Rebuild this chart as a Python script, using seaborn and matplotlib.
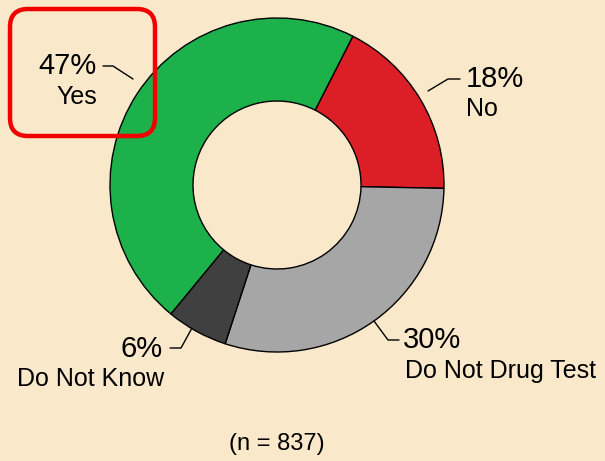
import matplotlib
matplotlib.use("Agg")
import matplotlib.pyplot as plt
import seaborn as sns
from matplotlib.patches import FancyBboxPatch

categories = ["No", "Do Not Drug Test", "Do Not Know", "Yes"]
values = [18, 30, 6, 47]
pct_labels = ["18%", "30%", "6%", "47%"]
colors = ["#DC1F26", "#A6A6A6", "#404040", "#1DB14B"]
note = "(n = 837)"

sns.set_theme(style="white")
plt.rcParams["font.family"] = ["Liberation Sans", "DejaVu Sans"]

BG = "#F9E8C9"
W, H = 605, 461
fig = plt.figure(figsize=(6.05, 4.61), dpi=100, facecolor=BG)
ax = fig.add_axes([0, 0, 1, 1])
ax.set_facecolor(BG)
ax.set_xlim(0, W)
ax.set_ylim(0, H)
ax.set_aspect("equal")
ax.axis("off")

def Y(py):
    return H - py

ax.pie(values, colors=colors, startangle=63, counterclock=False,
       center=(277, Y(185)), radius=167, frame=True,
       wedgeprops=dict(width=83, edgecolor="black", linewidth=1.0))
ax.set_xlim(0, W)
ax.set_ylim(0, H)
ax.axis("off")

pct_fs = 21
cat_fs = 18

# label specs: (pct pos, cat pos, ha, leader points)
specs = {
    "Yes": ((97, 66), (97, 97), "right", [(103, 66), (113, 66), (133, 79)]),
    "No": ((466, 79), (466, 109), "left", [(460, 79), (448, 79), (428, 91)]),
    "Do Not Know": ((163, 349), (164, 379), "right", [(170, 348), (181, 348), (192, 328)]),
    "Do Not Drug Test": ((403, 340), (405, 371), "left", [(399, 340), (388, 340), (374, 321)]),
}
for cat, pct in zip(categories, pct_labels):
    (px, py), (cx, cy), ha, pts = specs[cat]
    ax.text(px, Y(py), pct, fontsize=pct_fs, ha=ha, va="center", color="black")
    ax.text(cx, Y(cy), cat, fontsize=cat_fs, ha=ha, va="center", color="black")
    ax.plot([p[0] for p in pts], [Y(p[1]) for p in pts], color="black", lw=1.0)

ax.text(277, Y(444), note, fontsize=17, ha="center", va="center", color="black")

box = FancyBboxPatch((10 + 18, Y(136) + 18), 145 - 36, 127 - 36,
                     boxstyle="round,pad=18", fill=False,
                     edgecolor="#F20000", linewidth=3.2)
ax.add_patch(box)

fig.savefig("out.png", dpi=100, facecolor=BG)
